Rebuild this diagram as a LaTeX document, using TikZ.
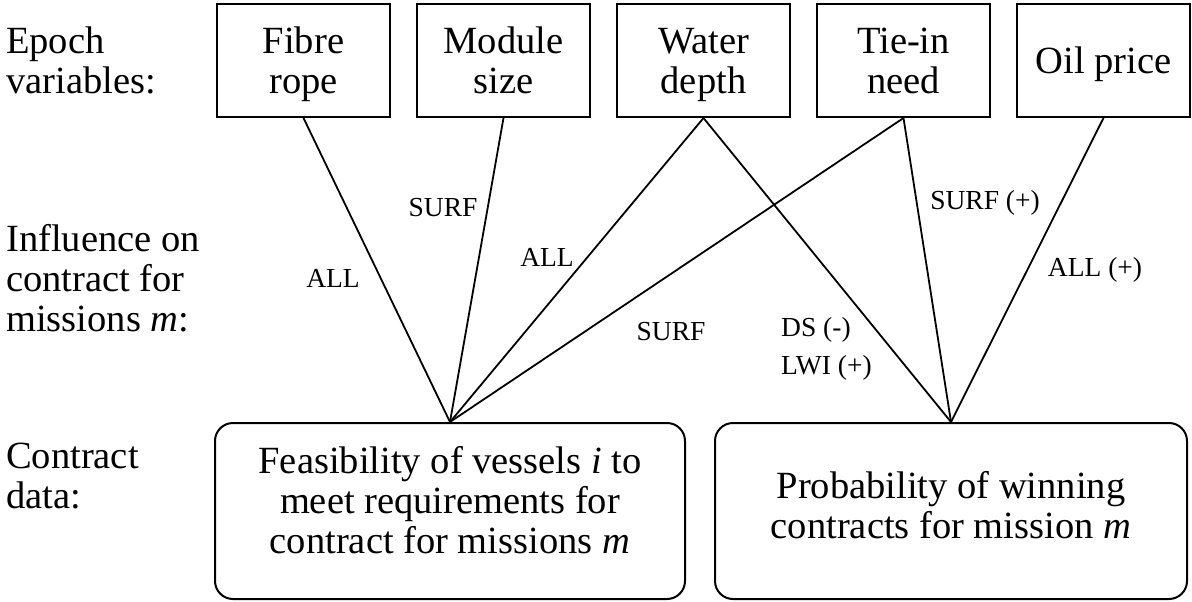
\documentclass[tikz,border=0pt]{standalone}
\usepackage{fontspec}
\setmainfont{Liberation Serif}
\newcommand{\bigtxt}{\fontsize{38.5}{40}\selectfont}
\newcommand{\lbltxt}{\fontsize{27.5}{38}\selectfont}
\begin{document}
\begin{tikzpicture}[x=1pt,y=-1pt,
  varbox/.style={draw, line width=2pt, minimum width=173pt, minimum height=113pt, inner sep=0pt, align=center, font=\bigtxt, text depth=0pt},
  databox/.style={draw, line width=2pt, rounded corners=18pt, minimum height=176pt, inner sep=0pt, align=center, font=\bigtxt},
  rowlbl/.style={anchor=west, align=left, font=\bigtxt, inner sep=0pt},
  wire/.style={line width=1.8pt},
  infl/.style={font=\lbltxt, inner sep=0pt}]
\useasboundingbox[fill=white] (0,0) rectangle (1192,602);
% row labels
\node[rowlbl] (r1) at (6,60.5) {Epoch\\variables:};
\node[rowlbl] (r2) at (6,278) {Influence on\\contract for\\missions \textit{m}:};
\node[rowlbl] (r3) at (6,476) {Contract\\data:};
% epoch variables
\node[varbox] (fibre) at (303.5,60.5) {Fibre\\rope};
\node[varbox] (module) at (503.5,60.5) {Module\\size};
\node[varbox] (water) at (703.5,60.5) {Water\\depth};
\node[varbox] (tiein) at (903.5,60.5) {Tie-in\\need};
\node[varbox] (oil) at (1103.5,60.5) {Oil price};
% contract data
\node[databox, minimum width=470pt, text depth=22pt] (feas) at (450,511) {Feasibility of vessels \textit{i} to\\meet requirements for\\contract for missions \textit{m}};
\node[databox, minimum width=472pt, text depth=12pt] (prob) at (951,511) {Probability of winning\\contracts for mission \textit{m}};
% connectors
\draw[wire] (fibre.south) -- (feas.north);
\draw[wire] (module.south) -- (feas.north);
\draw[wire] (water.south) -- (feas.north);
\draw[wire] (tiein.south) -- (feas.north);
\draw[wire] (water.south) -- (prob.north);
\draw[wire] (tiein.south) -- (prob.north);
\draw[wire] (oil.south) -- (prob.north);
% influence labels
\node[infl] (l1) at (333,278) {ALL};
\node[infl] (l2) at (443,208) {SURF};
\node[infl] (l3) at (547,257) {ALL};
\node[infl] (l4) at (671,332) {SURF};
\node[infl, align=left, anchor=west] (l5) at (781,349) {DS (-)\\LWI (+)};
\node[infl] (l6) at (985,203) {SURF (+)};
\node[infl] (l7) at (1095,270) {ALL (+)};
\end{tikzpicture}
\end{document}
